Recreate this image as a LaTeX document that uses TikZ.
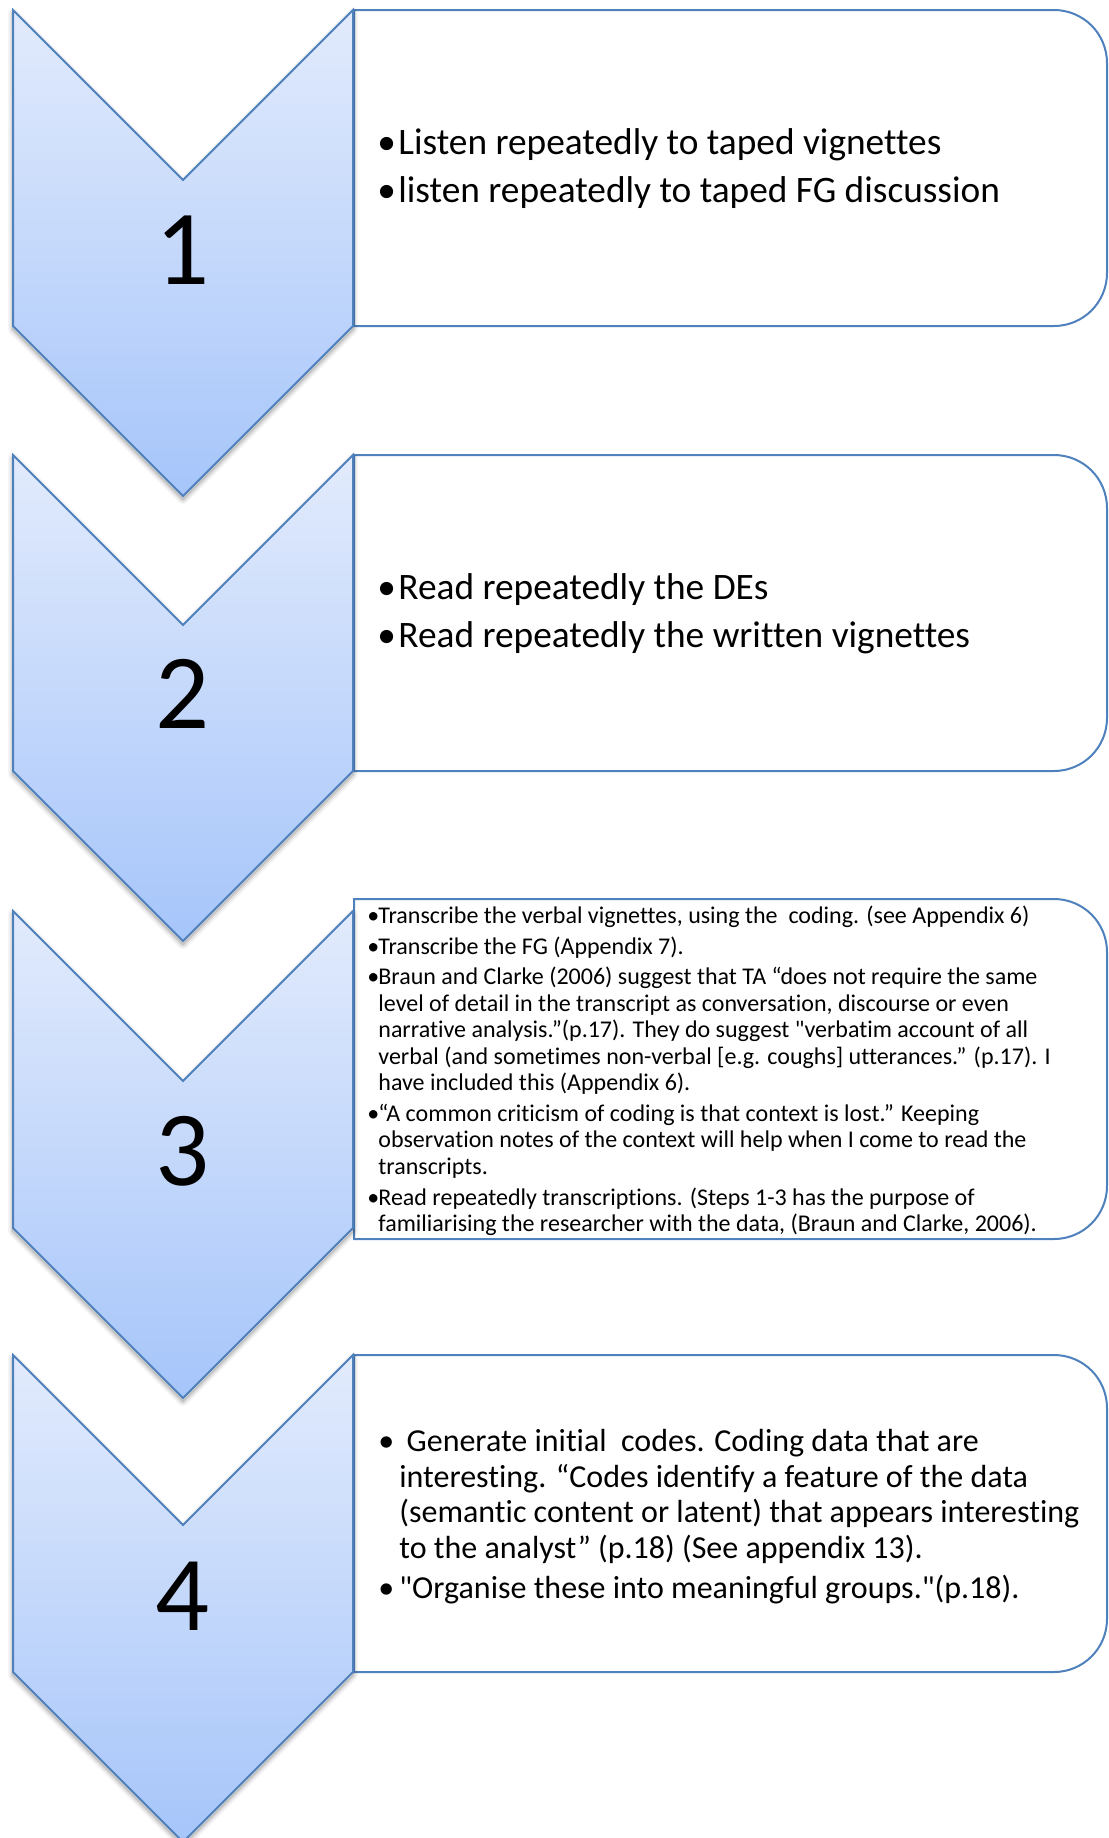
\documentclass[tikz,border=0pt]{standalone}
\usepackage{fontspec}
\setmainfont{Carlito}[Ligatures={CommonOff,TeXOff}]

\definecolor{edgeblue}{RGB}{79,129,189}
\definecolor{chevtop}{RGB}{226,235,252}
\definecolor{chevbot}{RGB}{166,197,250}

% chevron outline: top edge at #1, bottom of the straight sides at #2
\newcommand\chevpath[2]{(13,#1) -- (183,#1+170) -- (353,#1) -- (353,#2) -- (183,#2+170) -- (13,#2) -- cycle}
% text panel: square on the left, rounded on the right
\newcommand\panelpath[2]{(354,#1) -- (1054,#1) .. controls (1083.3,#1) and (1107,#1+23.7) .. (1107,#1+53) -- (1107,#2-53) .. controls (1107,#2-23.7) and (1083.3,#2) .. (1054,#2) -- (354,#2) -- cycle}
% chevron with a soft shadow underneath
\newcommand\chevron[2]{%
  \foreach \w/\o in {5/0.04,3.5/0.05,2/0.07,0.8/0.09}{%
    \draw[black, draw opacity=\o, line width=\w pt, line join=round, yshift=-1.6pt] \chevpath{#1}{#2};}
  \draw[chev] \chevpath{#1}{#2};}
% bulleted paragraph with hanging indent
\newcommand\bitem[2]{\par\noindent\hangindent=#1\hangafter=1\relax\makebox[#1][l]{\textbullet}#2\par}

\tikzset{
  chev/.style={draw=edgeblue, line width=1pt, line join=miter, top color=chevtop, bottom color=chevbot},
  panel/.style={draw=edgeblue, line width=1pt, fill=white},
  numeral/.style={inner sep=0pt, font=\fontsize{53.3}{60}\selectfont},
  txt/.style={anchor=base west, inner sep=0pt},
}

\begin{document}
\begin{tikzpicture}[x=0.5pt, y=-0.5pt]
\useasboundingbox (0,0) rectangle (1109,1838);
\fill[white] (0,0) rectangle (1109,1838);

% text panels
\draw[panel] \panelpath{10}{326};
\draw[panel] \panelpath{455}{771};
\draw[panel] \panelpath{899}{1239};
\draw[panel] \panelpath{1355}{1672};

% step chevrons
\chevron{10}{326}
\chevron{455}{771}
\chevron{911}{1228}
\chevron{1355}{1672}

% step numbers
\node[numeral] (n1) at (183,250) {1};
\node[numeral] (n2) at (183,694) {2};
\node[numeral] (n3) at (183,1151) {3};
\node[numeral] (n4) at (183,1596) {4};

% step 1
\node[txt] (s1) at (377,154) {\begin{minipage}[t]{360pt}
\fontsize{18.67}{24}\selectfont\setlength\parskip{0pt}
\bitem{10.5pt}{Listen repeatedly to taped vignettes}
\bitem{10.5pt}{listen repeatedly to taped FG discussion}
\end{minipage}};

% step 2
\node[txt] (s2) at (377,599) {\begin{minipage}[t]{360pt}
\fontsize{18.67}{24}\selectfont\setlength\parskip{0pt}
\bitem{10.5pt}{Read repeatedly the DEs}
\bitem{10.5pt}{Read repeatedly the written vignettes}
\end{minipage}};

% step 3
\node[txt] (s3) at (367,923.3) {\begin{minipage}[t]{368pt}
\fontsize{12}{13.25}\selectfont\setlength\parskip{2.1pt}
\bitem{5.5pt}{Transcribe the verbal vignettes, using the~ coding. (see Appendix 6)}
\bitem{5.5pt}{Transcribe the FG (Appendix 7).}
\bitem{5.5pt}{Braun and Clarke (2006) suggest that TA “does not require the same\\
level of detail in the transcript as conversation, discourse or even\\
narrative analysis.”(p.17). They do suggest "verbatim account of all\\
verbal (and sometimes non-verbal [e.g. coughs] utterances.” (p.17). I\\
have included this (Appendix 6).}
\bitem{5.5pt}{“A common criticism of coding is that context is lost.” Keeping\\
observation notes of the context will help when I come to read the\\
transcripts.}
\bitem{5.5pt}{Read repeatedly transcriptions. (Steps 1-3 has the purpose of\\
familiarising the researcher with the data, (Braun and Clarke, 2006).}
\end{minipage}};

% step 4
\node[txt] (s4) at (378,1451.7) {\begin{minipage}[t]{362pt}
\fontsize{16}{17.75}\selectfont\setlength\parskip{2.25pt}
\bitem{10.5pt}{\ Generate initial~ codes. Coding data that are\\
interesting. “Codes identify a feature of the data\\
(semantic content or latent) that appears interesting\\
to the analyst” (p.18) (See appendix 13).}
\bitem{10.5pt}{"Organise these into meaningful groups."(p.18).}
\end{minipage}};
\end{tikzpicture}
\end{document}
